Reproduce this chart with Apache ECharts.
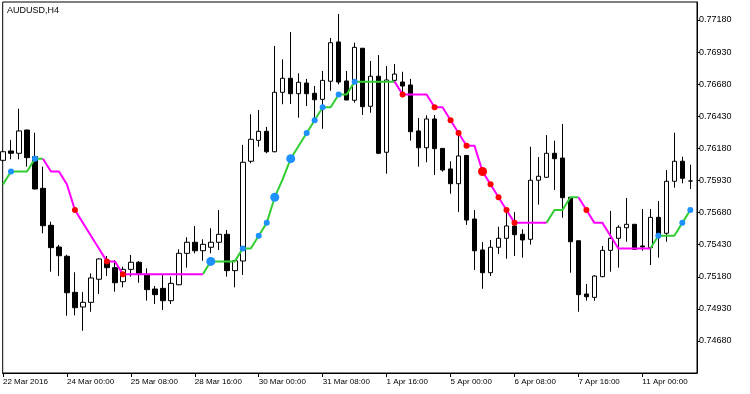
<!DOCTYPE html>
<html>
<head>
<meta charset="utf-8">
<script src="https://cdn.jsdelivr.net/npm/echarts@6.0.0/dist/echarts.min.js"></script>
<style>
	html, body { margin: 0; padding: 0; background: #fff; }
	#chart { width: 750px; height: 394px; }
</style>
</head>
<body>
<div id="chart"></div>
<script>
	var symbolName = 'AUDUSD,H4'

	// H4 bars, 22 Mar 2016 16:00 .. 11 Apr 2016
	var opens = [
		0.76087, 0.76160, 0.76142, 0.76323, 0.76115, 0.75869, 0.75581, 0.75412, 0.75340, 0.75059,
		0.74945, 0.74981, 0.75161, 0.75305, 0.75251, 0.75142, 0.75238, 0.75293, 0.75200, 0.75085,
		0.75090, 0.74994, 0.75118, 0.75363, 0.75449, 0.75383, 0.75410, 0.75449, 0.75511, 0.75228,
		0.75303, 0.76080, 0.76243, 0.76313, 0.76154, 0.76617, 0.76726, 0.76606, 0.76689, 0.76609,
		0.76562, 0.76703, 0.77009, 0.76705, 0.76555, 0.76960, 0.76508, 0.76742, 0.76150, 0.76710,
		0.76697, 0.76674, 0.76316, 0.76185, 0.76409, 0.76180, 0.76020, 0.75905, 0.76125, 0.75630,
		0.75389, 0.75212, 0.75410, 0.75480, 0.75576, 0.75511, 0.75472, 0.75932, 0.75955, 0.76142,
		0.76105, 0.75799, 0.75461, 0.75046, 0.75020, 0.75181, 0.75386, 0.75480, 0.75562, 0.75589,
		0.75420, 0.75407, 0.75643, 0.75519, 0.75924, 0.76080, 0.75926
	]
	var closes = [
		0.76154, 0.76142, 0.76316, 0.76108, 0.75864, 0.75578, 0.75407, 0.75344, 0.75056, 0.74939,
		0.74981, 0.75171, 0.75319, 0.75251, 0.75134, 0.75238, 0.75293, 0.75207, 0.75080, 0.75041,
		0.74994, 0.75129, 0.75363, 0.75449, 0.75383, 0.75433, 0.75449, 0.75511, 0.75228, 0.75305,
		0.76072, 0.76251, 0.76313, 0.76154, 0.76617, 0.76726, 0.76606, 0.76695, 0.76606, 0.76559,
		0.76710, 0.77003, 0.76697, 0.76557, 0.76967, 0.76505, 0.76742, 0.76142, 0.76713, 0.76759,
		0.76666, 0.76310, 0.76185, 0.76409, 0.76178, 0.76012, 0.75905, 0.76121, 0.75622, 0.75383,
		0.75212, 0.75410, 0.75480, 0.75576, 0.75508, 0.75467, 0.75932, 0.75963, 0.76142, 0.76100,
		0.75796, 0.75453, 0.75041, 0.75025, 0.75186, 0.75386, 0.75480, 0.75566, 0.75589, 0.75394,
		0.75412, 0.75643, 0.75498, 0.75924, 0.76080, 0.75947, 0.75926
	]
	var lows = [
		0.76074, 0.76095, 0.76095, 0.76038, 0.75860, 0.75519, 0.75220, 0.75186, 0.74877, 0.74880,
		0.74760, 0.74908, 0.75046, 0.75186, 0.75064, 0.75098, 0.75181, 0.75134, 0.74994, 0.74968,
		0.74921, 0.74968, 0.75115, 0.75251, 0.75363, 0.75305, 0.75363, 0.75389, 0.75181, 0.75098,
		0.75194, 0.76064, 0.76193, 0.76142, 0.76150, 0.76524, 0.76526, 0.76419, 0.76510, 0.76401,
		0.76333, 0.76629, 0.76679, 0.76555, 0.76536, 0.76440, 0.76458, 0.76136, 0.75983, 0.76700,
		0.76578, 0.76240, 0.76038, 0.76072, 0.75973, 0.75999, 0.75827, 0.75685, 0.75584, 0.75233,
		0.75087, 0.75186, 0.75358, 0.75321, 0.75342, 0.75329, 0.75430, 0.75742, 0.75952, 0.75856,
		0.75640, 0.75212, 0.74908, 0.74994, 0.74994, 0.75178, 0.75220, 0.75251, 0.75453, 0.75390,
		0.75383, 0.75272, 0.75329, 0.75453, 0.75874, 0.75908, 0.75864
	]
	var highs = [
		0.76168, 0.76245, 0.76489, 0.76326, 0.76302, 0.76038, 0.75609, 0.75428, 0.75352, 0.75215,
		0.75062, 0.75207, 0.75324, 0.75342, 0.75310, 0.75259, 0.75350, 0.75303, 0.75246, 0.75108,
		0.75194, 0.75181, 0.75394, 0.75488, 0.75576, 0.75472, 0.75558, 0.75700, 0.75545, 0.75311,
		0.76207, 0.76446, 0.76479, 0.76347, 0.76978, 0.76874, 0.77087, 0.76765, 0.76721, 0.76666,
		0.76783, 0.77040, 0.77227, 0.76783, 0.77003, 0.76962, 0.76861, 0.76907, 0.76822, 0.76837,
		0.76777, 0.76721, 0.76417, 0.76438, 0.76440, 0.76183, 0.76080, 0.76310, 0.76129, 0.75700,
		0.75451, 0.75467, 0.75570, 0.75679, 0.75685, 0.75550, 0.76193, 0.76113, 0.76284, 0.76240,
		0.76370, 0.75800, 0.75461, 0.75124, 0.75192, 0.75420, 0.75693, 0.75581, 0.75794, 0.75591,
		0.75708, 0.75708, 0.75770, 0.76012, 0.76302, 0.76115, 0.76053
	]

	// step trend line, one value per bar
	var levels = [
		0.7590, 0.7600, 0.7600, 0.7600, 0.7610, 0.7610, 0.7600, 0.7600, 0.7590, 0.7570,
		0.7560, 0.7550, 0.7540, 0.7530, 0.7530, 0.7520, 0.7520, 0.7520, 0.7520, 0.7520,
		0.7520, 0.7520, 0.7520, 0.7520, 0.7520, 0.7520, 0.7530, 0.7530, 0.7530, 0.7530,
		0.7540, 0.7540, 0.7550, 0.7560, 0.7580, 0.7594, 0.7610, 0.7620, 0.7630, 0.7640,
		0.7650, 0.7650, 0.7660, 0.7660, 0.7670, 0.7670, 0.7670, 0.7670, 0.7670, 0.7670,
		0.7660, 0.7660, 0.7660, 0.7660, 0.7650, 0.7650, 0.7640, 0.7630, 0.7620, 0.7620,
		0.7600, 0.7590, 0.7580, 0.7570, 0.7560, 0.7560, 0.7560, 0.7560, 0.7560, 0.7570,
		0.7570, 0.7580, 0.7580, 0.7570, 0.7560, 0.7560, 0.7550, 0.7540, 0.7540, 0.7540,
		0.7540, 0.7540, 0.7550, 0.7550, 0.7550, 0.7560, 0.7570
	]
	var upRuns = [[0, 5], [25, 49], [68, 72], [81, 86]]
	var downRuns = [[5, 25], [49, 68], [72, 81]]

	var blueDots = [1, 4, 30, 32, 33, 38, 39, 40, 42, 44, 82, 85, 86]
	var blueBigDots = [26, 34, 36]
	var redDots = [9, 13, 15, 50, 54, 56, 57, 58, 61, 62, 63, 64, 73]
	var redBigDots = [60]

	var priceTicks = [0.74680, 0.74930, 0.75180, 0.75430, 0.75680, 0.75930, 0.76180, 0.76430, 0.76680, 0.76930, 0.77180]
	var timeTicks = [0, 8, 16, 24, 32, 40, 48, 56, 64, 72, 80]
	var timeLabels = ['22 Mar 2016', '24 Mar 00:00', '25 Mar 08:00', '28 Mar 16:00', '30 Mar 00:00', '31 Mar 08:00',
		'1 Apr 16:00', '5 Apr 00:00', '6 Apr 08:00', '7 Apr 16:00', '11 Apr 00:00']

	var font = 'Liberation Sans, Arial, sans-serif'
	var green = 'rgb(50,205,50)'
	var magenta = 'rgb(255,0,255)'
	var blue = 'rgb(30,144,255)'
	var red = 'rgb(255,0,0)'

	function candleData(){
		return opens.map(function(o, i){
			return [i, o, closes[i], lows[i], highs[i]]
		})
	}

	function runData(runs){
		var data = levels.map(function(v, i){ return [i, '-'] })
		runs.forEach(function(r){
			for (var i = r[0]; i <= r[1]; i++) {
				data[i] = [i, levels[i]]
			}
		})
		return data
	}

	function dotData(idx){
		return idx.map(function(i){ return [i, levels[i]] })
	}

	function lineSeries(runs, color){
		return {
			type: 'line',
			data: runData(runs),
			showSymbol: false,
			connectNulls: false,
			z: 3,
			lineStyle: { color: color, width: 2 },
			itemStyle: { color: color }
		}
	}

	function dotSeries(idx, color, size){
		return {
			type: 'scatter',
			data: dotData(idx),
			symbolSize: size,
			z: 4,
			itemStyle: { color: color, opacity: 1 }
		}
	}

	var chart = echarts.init(document.getElementById('chart'))

	chart.setOption({
		animation: false,
		backgroundColor: '#fff',
		graphic: [{
			type: 'text',
			left: 7,
			top: 6,
			style: { text: symbolName, font: '9px ' + font, fill: '#000' }
		}],
		grid: {
			left: 2,
			right: 53,
			top: 2,
			bottom: 21,
			show: true,
			borderColor: '#000',
			borderWidth: 1,
			backgroundColor: '#fff'
		},
		xAxis: {
			type: 'value',
			min: -0.04,
			max: 86.835,
			axisLine: { show: true, onZero: false, lineStyle: { color: '#000', width: 1 } },
			axisTick: { show: true, customValues: timeTicks, length: 4, lineStyle: { color: '#000' } },
			axisLabel: {
				customValues: timeTicks,
				formatter: function(v){ return timeLabels[timeTicks.indexOf(v)] },
				align: 'left',
				margin: 5,
				color: '#000',
				fontSize: 8,
				fontFamily: font
			},
			splitLine: { show: false }
		},
		yAxis: {
			type: 'value',
			position: 'right',
			min: 0.744308,
			max: 0.773202,
			scale: true,
			axisLine: { show: true, onZero: false, lineStyle: { color: '#000', width: 1 } },
			axisTick: { show: true, customValues: priceTicks, length: 3, lineStyle: { color: '#000' } },
			axisLabel: {
				customValues: priceTicks,
				formatter: function(v){ return v.toFixed(5) },
				margin: 2,
				color: '#000',
				fontSize: 9,
				fontFamily: font
			},
			splitLine: { show: false }
		},
		series: [
			{
				type: 'candlestick',
				data: candleData(),
				barWidth: 5,
				z: 2,
				itemStyle: {
					color: '#fff',
					color0: '#000',
					borderColor: '#000',
					borderColor0: '#000',
					borderColorDoji: '#000',
					borderWidth: 1
				}
			},
			lineSeries(upRuns, green),
			lineSeries(downRuns, magenta),
			dotSeries(blueDots, blue, 6),
			dotSeries(blueBigDots, blue, 9),
			dotSeries(redDots, red, 6),
			dotSeries(redBigDots, red, 9)
		]
	})
</script>
</body>
</html>
